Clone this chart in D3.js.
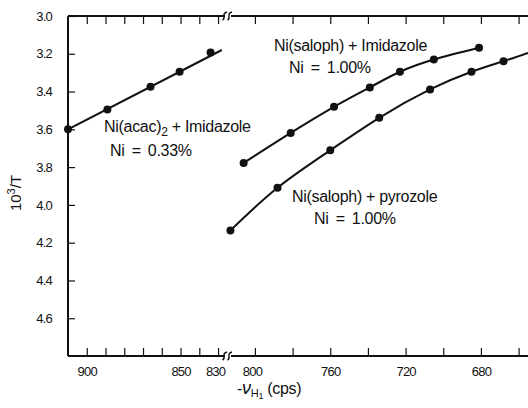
<!DOCTYPE html>
<html>
<head>
<meta charset="utf-8">
<script src="https://cdn.jsdelivr.net/npm/d3@7"></script>
<style>
  html, body { margin: 0; padding: 0; background: #fff; }
  svg { display: block; }
  text { font-family: "Liberation Sans", "DejaVu Sans", sans-serif; fill: #111; }
</style>
</head>
<body>
<svg id="chart" width="528" height="408"></svg>
<script>
// ---- data ----
const acacX = [910, 889, 866, 850.5, 834];
const acacY = [3.60, 3.495, 3.375, 3.295, 3.193];
const acacFitX = [910, 828];
const acacFitY = [3.60, 3.18];

const salImX = [806, 781, 758, 739, 723, 705, 681];
const salImY = [3.778, 3.619, 3.481, 3.378, 3.295, 3.230, 3.168];

const salPyX = [813, 788, 760, 734, 707, 685, 668];
const salPyY = [4.135, 3.909, 3.711, 3.539, 3.389, 3.295, 3.239];
const salPyExtX = [655];
const salPyExtY = [3.195];

const xTicksLeft = [900, 890, 880, 870, 860, 850, 840, 830];
const xTicksRight = [800, 780, 760, 740, 720, 700, 680, 660];
const xLabels = [900, 850, 830, 800, 760, 720, 680];
const yTicks = [3.0, 3.2, 3.4, 3.6, 3.8, 4.0, 4.2, 4.4, 4.6];

// ---- layout ----
const svg = d3.select("#chart");
const L = 68, R = 528, T = 16, B = 356, BRK = 228;

// broken x axis: two linear pieces joined at the break
const x = d3.scaleLinear()
  .domain([910, 824.7, 814.3, 655])
  .range([L, BRK, BRK, R]);
const y = d3.scaleLinear().domain([3.0, 4.8]).range([T, B]);

svg.append("defs").append("clipPath").attr("id", "clip")
  .append("rect").attr("x", L).attr("y", T).attr("width", R - L).attr("height", B - T);

const fmtX = d => xLabels.includes(d) ? String(d) : "";
const allTicks = xTicksLeft.concat(xTicksRight);

// bottom axis
const gB = svg.append("g").attr("transform", `translate(0,${B})`)
  .call(d3.axisBottom(x).tickValues(allTicks).tickFormat(fmtX).tickSizeInner(-8).tickSizeOuter(0).tickPadding(11));
// top axis
const gT = svg.append("g").attr("transform", `translate(0,${T})`)
  .call(d3.axisTop(x).tickValues(allTicks).tickFormat("").tickSizeInner(-8).tickSizeOuter(0));
// left axis
const gL = svg.append("g").attr("transform", `translate(${L},0)`)
  .call(d3.axisLeft(y).tickValues(yTicks).tickFormat(d3.format(".1f")).tickSizeInner(-7).tickSizeOuter(0).tickPadding(16));

[gB, gT, gL].forEach(g => {
  g.select(".domain").attr("stroke", "#111").attr("stroke-width", 2);
  g.selectAll(".tick line").attr("stroke", "#111").attr("stroke-width", 1.2);
  g.selectAll(".tick text").style("font-size", "13px").attr("fill", "#111")
    .style("font-family", '"Liberation Sans", sans-serif').style("letter-spacing", "-0.8px");
});
gL.select(".domain").attr("d", `M0,${T}V${B}`);
gB.select(".domain").attr("d", `M${L},0H${R}`);
gT.select(".domain").attr("d", `M${L},0H${R}`);
gB.selectAll(".tick text").filter(d => d === 830 || d === 800).attr("dx", -3);

// break marks
[T, B].forEach(yy => {
  svg.append("rect").attr("x", BRK - 3).attr("y", yy - 2).attr("width", 6).attr("height", 4).attr("fill", "#fff");
  [-2.5, 2.5].forEach(off => {
    svg.append("path")
      .attr("d", `M${BRK + off - 3},${yy + 4} q2,-1 1.5,-4 q-0.5,-3 3,-4`)
      .attr("fill", "none").attr("stroke", "#111").attr("stroke-width", 1.4);
  });
});

// lines
const plot = svg.append("g").attr("clip-path", "url(#clip)");
const lineStraight = d3.line().x(d => x(d[0])).y(d => y(d[1]));
const lineSmooth = d3.line().x(d => x(d[0])).y(d => y(d[1])).curve(d3.curveNatural);

const zip = (a, b) => a.map((v, i) => [v, b[i]]);

plot.append("path").datum(zip(acacFitX, acacFitY)).attr("d", lineStraight)
  .attr("fill", "none").attr("stroke", "#111").attr("stroke-width", 2);
plot.append("path").datum(zip(salImX, salImY)).attr("d", lineSmooth)
  .attr("fill", "none").attr("stroke", "#111").attr("stroke-width", 2);
plot.append("path").datum(zip(salPyX.concat(salPyExtX), salPyY.concat(salPyExtY))).attr("d", lineSmooth)
  .attr("fill", "none").attr("stroke", "#111").attr("stroke-width", 2);

// points
[[acacX, acacY], [salImX, salImY], [salPyX, salPyY]].forEach(([xs, ys]) => {
  svg.append("g").selectAll("circle").data(zip(xs, ys)).join("circle")
    .attr("cx", d => x(d[0])).attr("cy", d => y(d[1])).attr("r", 4).attr("fill", "#111");
});

// annotations
function note(px, py, parts, size, ws) {
  const t = svg.append("text").attr("x", px).attr("y", py).style("font-size", size + "px")
    .style("letter-spacing", "-0.3px").style("word-spacing", (ws || 0) + "px");
  parts.forEach(p => {
    const s = t.append("tspan").text(p.t);
    if (p.dy) s.attr("dy", p.dy);
    if (p.fs) s.style("font-size", p.fs + "px");
    if (p.it) s.style("font-style", "italic");
  });
  return t;
}
note(104, 132, [{ t: "Ni(acac)" }, { t: "2", dy: 4, fs: 12 }, { t: " + Imidazole", dy: -4 }], 16);
note(110, 156, [{ t: "Ni = 0.33%" }], 16, 3);
note(274, 51, [{ t: "Ni(saloph) + Imidazole" }], 16);
note(289, 73, [{ t: "Ni = 1.00%" }], 16, 3);
note(292, 202, [{ t: "Ni(saloph) + pyrozole" }], 16);
note(314, 224, [{ t: "Ni = 1.00%" }], 16, 3);

// axis titles
note(237, 394, [{ t: "-" }, { t: "ν", it: true, fs: 18 }, { t: "H", dy: 3, fs: 11 }, { t: "1", dy: 2, fs: 9 }, { t: "  (cps)", dy: -5 }], 16);
svg.append("text").attr("transform", "translate(21,193) rotate(-90)").attr("text-anchor", "middle")
  .style("font-size", "15px")
  .call(t => { t.append("tspan").text("10"); t.append("tspan").text("3").attr("dy", -6).style("font-size", "11px");
               t.append("tspan").text("/T").attr("dy", 6); });
</script>
</body>
</html>
